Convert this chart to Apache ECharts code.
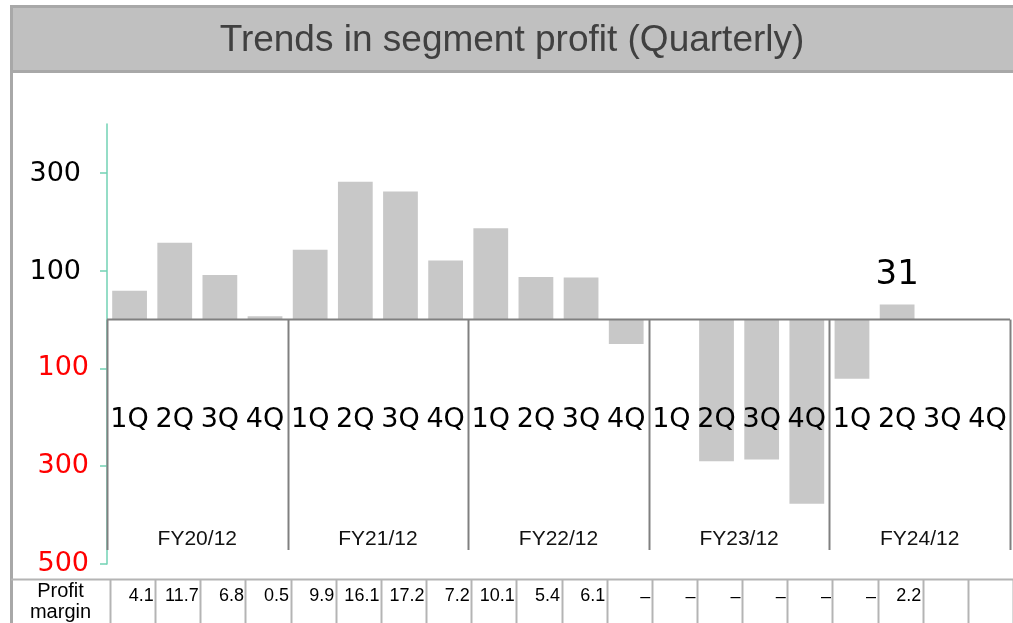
<!DOCTYPE html>
<html><head><meta charset="utf-8">
<script src="https://cdn.jsdelivr.net/npm/echarts@6/dist/echarts.min.js"></script>
<style>html,body{margin:0;padding:0;background:#fff}#c{width:1013px;height:623px}</style>
</head><body><div id="c"></div>
<script>
const titleText = 'Trends in segment profit (Quarterly)';
const fiscalYears = ['FY20/12', 'FY21/12', 'FY22/12', 'FY23/12', 'FY24/12'];
const quarters = ['1Q', '2Q', '3Q', '4Q'];
// segment profit per quarter (FY20/12 1Q ... FY24/12 4Q)
const profit = [59, 157, 91, 7, 143, 282, 262, 121, 187, 87, 86, -50, null, -290, -286, -377, -121, 31, null, null];
const profitMargin = ['4.1', '11.7', '6.8', '0.5', '9.9', '16.1', '17.2', '7.2', '10.1', '5.4', '6.1', '–', '–', '–', '–', '–', '–', '2.2', '', ''];
const marginHeader = ['Profit', 'margin'];
const yTickValues = [-500, -300, -100, 100, 300];
const labeledCategory = 'FY24/12 2Q';

const categories = [];
fiscalYears.forEach(fy => quarters.forEach(q => categories.push(fy + ' ' + q)));

const chart = echarts.init(document.getElementById('c'), null, { renderer: 'canvas' });
const teal = '#72d2b4';
const option = {
  animation: false,
  grid: { left: 107, right: 3, top: 124, bottom: 59, containLabel: false, outerBoundsMode: 'none' },
  xAxis: [
    {
      type: 'category', data: categories, z: 5, position: 'bottom',
      axisLine: { show: false, onZero: false },
      axisTick: { show: false },
      axisLabel: {
        interval: 0, margin: -144, verticalAlign: 'middle',
        formatter: v => v.split(' ')[1],
        fontFamily: 'DejaVu Sans', fontSize: 27, color: '#000'
      },
      splitLine: { show: false }
    },
    {
      type: 'category', data: fiscalYears, position: 'bottom', z: 5,
      axisLine: { show: false, onZero: false },
      axisTick: { show: false },
      axisLabel: {
        interval: 0, margin: -25, verticalAlign: 'middle',
        fontFamily: 'Liberation Sans', fontSize: 21, color: '#111'
      },
      splitLine: { show: false }
    }
  ],
  yAxis: {
    type: 'value', min: -500, max: 400, interval: 100,
    axisLine: { show: true, lineStyle: { color: teal, width: 1.5 } },
    axisTick: { show: true, length: 7, customValues: yTickValues, lineStyle: { color: teal, width: 1.5 } },
    splitLine: { show: false },
    axisLabel: {
      margin: 18, customValues: yTickValues,
      formatter: v => v < 0 ? '{neg|' + Math.abs(v) + '}' : '{pos|' + v + '}',
      rich: {
        pos: { color: '#000', fontFamily: 'DejaVu Sans', fontSize: 27, padding: [2, 8, 0, 0] },
        neg: { color: '#ff0000', fontFamily: 'DejaVu Sans', fontSize: 27 }
      }
    }
  },
  series: [{
    type: 'bar', xAxisIndex: 0, barWidth: '77%',
    itemStyle: { color: '#c8c8c8' },
    label: { show: false },
    data: profit.map((v, i) => categories[i] === labeledCategory
      ? { value: v, label: { show: true, position: 'top', distance: 12, fontFamily: 'DejaVu Sans', fontSize: 34, color: '#000' } }
      : v)
  }]
};
chart.setOption(option);

// decorations computed through the chart's own scales
const cx = i => chart.convertToPixel({ xAxisIndex: 0 }, categories[i]);
const band = cx(1) - cx(0);
const leftEdge = cx(0) - band / 2;
const rightEdge = cx(categories.length - 1) + band / 2;
const yZero = chart.convertToPixel({ yAxisIndex: 0 }, 0);
const yMin = chart.convertToPixel({ yAxisIndex: 0 }, -500);
const g = [];
// frame + title banner
g.push({ type: 'line', z: 10, shape: { x1: 11.5, y1: 72, x2: 11.5, y2: 623 }, style: { stroke: '#a8a8a8', lineWidth: 3 } });
g.push({ type: 'rect', z: 10, shape: { x: 11.5, y: 6.5, width: 1010, height: 65 }, style: { fill: '#c0c0c0', stroke: '#a8a8a8', lineWidth: 3 } });
g.push({ type: 'text', z: 11, x: 512, y: 41, style: { text: titleText, font: '37px "Liberation Sans"', fill: '#404040', textAlign: 'center', textVerticalAlign: 'middle' } });
// zero line
g.push({ type: 'line', z: 10, shape: { x1: leftEdge, y1: yZero, x2: rightEdge, y2: yZero }, style: { stroke: '#808080', lineWidth: 2 } });
// fiscal-year dividers
for (let k = 0; k <= fiscalYears.length; k++) {
  const x = Math.round(leftEdge + k * quarters.length * band) + 0.5;
  g.push({ type: 'line', z: 10, shape: { x1: x, y1: yZero, x2: x, y2: yMin - 14 }, style: { stroke: '#808080', lineWidth: 2 } });
}
// profit-margin table
const tTop = 579.5;
const cellX = k => leftEdge + 3 + k * band;
g.push({ type: 'line', z: 10, shape: { x1: 11, y1: tTop, x2: 1013, y2: tTop }, style: { stroke: '#b4b4b4', lineWidth: 2 } });
for (let k = 0; k <= categories.length; k++) {
  const x = Math.round(cellX(k)) + 0.5;
  g.push({ type: 'line', z: 10, shape: { x1: x, y1: tTop, x2: x, y2: 623 }, style: { stroke: '#b4b4b4', lineWidth: 2 } });
}
g.push({ type: 'text', z: 11, x: (11 + cellX(0)) / 2, y: 591, style: { text: marginHeader[0], font: '20px "Liberation Sans"', fill: '#000', textAlign: 'center', textVerticalAlign: 'middle' } });
g.push({ type: 'text', z: 11, x: (11 + cellX(0)) / 2, y: 612, style: { text: marginHeader[1], font: '20px "Liberation Sans"', fill: '#000', textAlign: 'center', textVerticalAlign: 'middle' } });
profitMargin.forEach((t, k) => {
  if (!t) return;
  g.push({ type: 'text', z: 11, x: cellX(k + 1) - 1.5, y: t === '–' ? 597 : 596, style: { text: t, font: '18px "Liberation Sans"', fill: '#000', textAlign: 'right', textVerticalAlign: 'middle' } });
});
chart.setOption({ graphic: g });
</script>
</body></html>
